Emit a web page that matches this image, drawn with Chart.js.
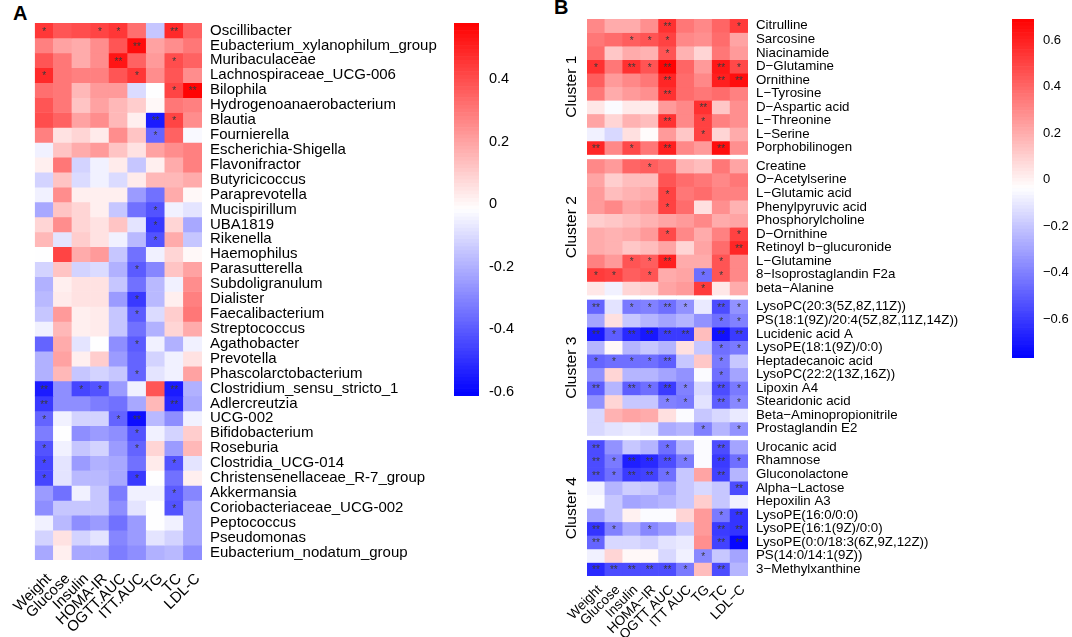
<!DOCTYPE html>
<html>
<head>
<meta charset="utf-8">
<script src="https://cdn.jsdelivr.net/npm/chart.js@4.4.0/dist/chart.umd.min.js"></script>
<style>
body{margin:0;background:#fff;width:1072px;height:637px;overflow:hidden;position:relative;font-family:"Liberation Sans",Arial,sans-serif}
canvas{position:absolute;top:0}
.tag{position:absolute;font-weight:bold;font-size:20px;color:#000}
</style>
</head>
<body>
<div class="tag" style="left:13px;top:2px">A</div>
<div class="tag" style="left:554px;top:-4px">B</div>
<canvas id="heatA" width="450" height="637" style="left:0"></canvas>
<canvas id="barA" width="110" height="420" style="left:440px"></canvas>
<canvas id="heatB" width="460" height="637" style="left:540px"></canvas>
<canvas id="barB" width="82" height="380" style="left:990px"></canvas>
<script>
// panel A: genera vs. phenotypes
let colsA = ["Weight","Glucose","Insulin","HOMA-IR","OGTT.AUC","ITT.AUC","TG","TC","LDL-C"]
let rowsA = ["Oscillibacter","Eubacterium_xylanophilum_group","Muribaculaceae","Lachnospiraceae_UCG-006","Bilophila",
"Hydrogenoanaerobacterium","Blautia","Fournierella","Escherichia-Shigella","Flavonifractor","Butyricicoccus",
"Paraprevotella","Mucispirillum","UBA1819","Rikenella","Haemophilus","Parasutterella","Subdoligranulum","Dialister",
"Faecalibacterium","Streptococcus","Agathobacter","Prevotella","Phascolarctobacterium","Clostridium_sensu_stricto_1",
"Adlercreutzia","UCG-002","Bifidobacterium","Roseburia","Clostridia_UCG-014","Christensenellaceae_R-7_group",
"Akkermansia","Coriobacteriaceae_UCG-002","Peptococcus","Pseudomonas","Eubacterium_nodatum_group"]
let valsA = [
[0.45,0.38,0.4,0.42,0.45,0.32,-0.15,0.48,0.35],
[0.28,0.2,0.18,0.25,0.38,0.55,0.2,0.25,0.3],
[0.38,0.3,0.18,0.25,0.53,0.35,0.22,0.4,0.35],
[0.48,0.3,0.28,0.28,0.38,0.45,0.25,0.38,0.25],
[0.32,0.3,0.15,0.22,0.22,-0.1,-0.02,0.42,0.57],
[0.38,0.3,0.12,0.2,0.15,0.1,0.0,0.3,0.28],
[0.4,0.35,0.2,0.25,0.15,0.02,-0.55,0.42,0.25],
[0.28,0.05,0.08,0.03,0.25,0.12,-0.38,0.35,-0.03],
[-0.05,0.12,0.18,0.22,0.12,0.05,0.2,0.25,0.28],
[0.02,0.3,-0.12,-0.05,0.03,-0.15,0.02,0.18,0.28],
[-0.12,0.12,-0.1,-0.05,-0.1,0.03,0.15,0.15,0.18],
[-0.05,0.25,0.02,0.02,0.02,-0.25,-0.35,0.18,0.0],
[-0.22,0.12,0.08,0.02,-0.15,-0.35,-0.42,-0.05,-0.08],
[0.08,0.25,0.08,0.05,0.12,-0.08,-0.48,0.08,-0.22],
[0.15,-0.08,0.1,0.05,-0.05,-0.18,-0.42,0.18,-0.15],
[-0.02,0.42,0.18,0.22,-0.15,-0.35,-0.05,0.08,0.0],
[-0.12,0.12,-0.12,-0.1,-0.2,-0.4,-0.3,0.12,0.2],
[-0.2,0.02,0.05,0.05,-0.15,-0.35,-0.18,-0.05,0.25],
[-0.18,0.03,0.05,0.05,-0.25,-0.48,-0.18,0.02,0.28],
[-0.15,0.22,0.02,0.03,-0.15,-0.4,-0.1,0.1,0.3],
[-0.05,0.15,0.02,0.03,-0.15,-0.35,-0.2,0.08,0.18],
[-0.38,0.18,-0.08,-0.02,-0.28,-0.4,-0.05,-0.2,-0.05],
[-0.2,0.2,0.02,0.1,-0.25,-0.38,-0.12,-0.05,0.05],
[-0.2,0.15,-0.15,-0.12,-0.15,-0.38,-0.08,-0.05,0.2],
[-0.55,-0.28,-0.45,-0.42,-0.25,-0.05,0.38,-0.55,-0.2],
[-0.48,-0.28,-0.28,-0.32,-0.35,-0.22,0.15,-0.52,-0.22],
[-0.38,-0.05,-0.12,-0.12,-0.38,-0.58,-0.18,-0.28,-0.05],
[-0.32,-0.02,-0.28,-0.25,-0.28,-0.42,-0.05,-0.12,0.1],
[-0.42,-0.05,-0.15,-0.12,-0.25,-0.38,0.08,-0.25,0.15],
[-0.45,-0.08,-0.25,-0.2,-0.22,-0.35,0.03,-0.42,-0.08],
[-0.45,-0.08,-0.18,-0.18,-0.22,-0.48,-0.02,-0.35,0.02],
[-0.25,-0.35,-0.05,-0.15,-0.32,-0.05,-0.05,-0.4,-0.3],
[-0.28,-0.15,-0.15,-0.15,-0.28,-0.08,-0.02,-0.42,-0.22],
[-0.05,-0.18,-0.28,-0.25,-0.35,-0.25,-0.02,-0.05,-0.22],
[-0.12,0.05,-0.12,-0.08,-0.3,-0.25,-0.08,-0.12,-0.22],
[-0.22,0.02,-0.22,-0.22,-0.32,-0.28,-0.2,-0.18,-0.28]]
// 1 = *, 2 = **
let starsA = [
[1,0,0,1,1,0,0,2,0],[0,0,0,0,0,2,0,0,0],[0,0,0,0,2,0,0,1,0],[1,0,0,0,0,1,0,0,0],[0,0,0,0,0,0,0,1,2],
[0,0,0,0,0,0,0,0,0],[0,0,0,0,0,0,2,1,0],[0,0,0,0,0,0,1,0,0],[0,0,0,0,0,0,0,0,0],[0,0,0,0,0,0,0,0,0],
[0,0,0,0,0,0,0,0,0],[0,0,0,0,0,0,0,0,0],[0,0,0,0,0,0,1,0,0],[0,0,0,0,0,0,1,0,0],[0,0,0,0,0,0,1,0,0],
[0,0,0,0,0,0,0,0,0],[0,0,0,0,0,1,0,0,0],[0,0,0,0,0,0,0,0,0],[0,0,0,0,0,1,0,0,0],[0,0,0,0,0,1,0,0,0],
[0,0,0,0,0,0,0,0,0],[0,0,0,0,0,1,0,0,0],[0,0,0,0,0,0,0,0,0],[0,0,0,0,0,1,0,0,0],[2,0,1,1,0,0,0,2,0],
[2,0,0,0,0,0,0,2,0],[1,0,0,0,1,2,0,0,0],[0,0,0,0,0,1,0,0,0],[1,0,0,0,0,1,0,0,0],[1,0,0,0,0,0,0,1,0],
[1,0,0,0,0,1,0,0,0],[0,0,0,0,0,0,0,1,0],[0,0,0,0,0,0,0,1,0],[0,0,0,0,0,0,0,0,0],[0,0,0,0,0,0,0,0,0],
[0,0,0,0,0,0,0,0,0]]
let rangeA = [-0.613, 0.579]
let ticksA = [0.4,0.2,0,-0.2,-0.4,-0.6]
let tickLabelsA = ["0.4","0.2","0","-0.2","-0.4","-0.6"]

// panel B: metabolites vs. phenotypes, four clusters
let colsB = ["Weight","Glucose","Insulin","HOMA−IR","OGTT AUC","ITT AUC","TG","TC","LDL−C"]
let rowsB1 = ["Citrulline","Sarcosine","Niacinamide","D−Glutamine","Ornithine","L−Tyrosine","D−Aspartic acid","L−Threonine","L−Serine","Porphobilinogen"]
let valsB1 = [
[0.3,0.2,0.2,0.28,0.55,0.35,0.3,0.4,0.52],
[0.35,0.38,0.42,0.45,0.5,0.3,0.28,0.38,0.22],
[0.38,0.12,0.2,0.18,0.45,0.18,0.08,0.35,0.25],
[0.55,0.35,0.55,0.45,0.68,0.4,0.25,0.62,0.48],
[0.42,0.25,0.3,0.35,0.58,0.38,0.3,0.6,0.65],
[0.35,0.2,0.25,0.28,0.55,0.38,0.35,0.38,0.32],
[0.03,-0.05,0.02,0.02,0.25,0.3,0.55,0.12,0.28],
[0.22,0.08,0.18,0.15,0.55,0.3,0.5,0.32,0.28],
[-0.08,-0.15,0.05,-0.03,0.25,0.12,0.5,0.08,0.2],
[0.58,0.3,0.48,0.35,0.6,0.3,0.25,0.65,0.28]]
let starsB1 = [
[0,0,0,0,2,0,0,0,1],[0,0,1,1,1,0,0,0,0],[0,0,0,0,1,0,0,0,0],[1,0,2,1,2,0,0,2,1],[0,0,0,0,2,0,0,2,2],
[0,0,0,0,2,0,0,0,0],[0,0,0,0,0,0,2,0,0],[0,0,0,0,2,0,1,0,0],[0,0,0,0,0,0,1,0,0],[2,0,1,0,2,0,0,2,0]]
let rowsB2 = ["Creatine","O−Acetylserine","L−Glutamic acid","Phenylpyruvic acid","Phosphorylcholine","D−Ornithine","Retinoyl b−glucuronide","L−Glutamine","8−Isoprostaglandin F2a","beta−Alanine"]
let valsB2 = [
[0.3,0.25,0.4,0.42,0.38,0.18,0.15,0.35,0.22],
[0.22,0.1,0.15,0.15,0.45,0.38,0.35,0.3,0.35],
[0.25,0.15,0.18,0.2,0.5,0.35,0.38,0.32,0.32],
[0.25,0.3,0.22,0.25,0.5,0.38,0.05,0.28,0.18],
[0.1,0.12,0.15,0.18,0.22,0.25,0.3,0.2,0.22],
[0.2,0.18,0.2,0.25,0.48,0.3,0.2,0.32,0.5],
[0.2,0.18,0.12,0.15,0.22,0.08,0.22,0.38,0.58],
[0.32,0.25,0.45,0.42,0.6,0.2,0.2,0.45,0.3],
[0.52,0.5,0.42,0.45,0.2,0.22,-0.45,0.45,0.3],
[0.03,-0.08,0.08,0.1,0.22,0.25,0.52,0.03,0.2]]
let starsB2 = [
[0,0,0,1,0,0,0,0,0],[0,0,0,0,0,0,0,0,0],[0,0,0,0,1,0,0,0,0],[0,0,0,0,1,0,0,0,0],[0,0,0,0,0,0,0,0,0],
[0,0,0,0,1,0,0,0,1],[0,0,0,0,0,0,0,0,2],[0,0,1,1,2,0,0,1,0],[1,1,0,1,0,0,1,1,0],[0,0,0,0,0,0,1,0,0]]
let rowsB3 = ["LysoPC(20:3(5Z,8Z,11Z))","PS(18:1(9Z)/20:4(5Z,8Z,11Z,14Z))","Lucidenic acid A","LysoPE(18:1(9Z)/0:0)","Heptadecanoic acid","LysoPC(22:2(13Z,16Z))","Lipoxin A4","Stearidonic acid","Beta−Aminopropionitrile","Prostaglandin E2"]
let valsB3 = [
[-0.48,-0.12,-0.42,-0.4,-0.45,-0.35,-0.1,-0.55,-0.35],
[-0.3,0.05,-0.2,-0.25,-0.3,-0.25,-0.35,-0.45,-0.4],
[-0.7,-0.5,-0.65,-0.7,-0.6,-0.6,0.15,-0.72,-0.6],
[-0.25,-0.02,-0.25,-0.2,-0.25,0.05,-0.2,-0.45,-0.42],
[-0.48,-0.45,-0.45,-0.45,-0.5,-0.2,0.12,-0.42,-0.2],
[-0.35,0.08,-0.25,-0.25,-0.3,-0.35,-0.05,-0.45,-0.3],
[-0.5,-0.25,-0.5,-0.45,-0.6,-0.4,-0.15,-0.55,-0.42],
[-0.35,0.08,-0.2,-0.2,-0.4,-0.42,-0.12,-0.5,-0.38],
[-0.15,0.18,0.22,0.2,0.05,-0.05,-0.2,-0.15,-0.1],
[-0.15,-0.12,-0.1,-0.12,-0.28,-0.25,-0.4,-0.25,-0.35]]
let starsB3 = [
[2,0,1,1,2,1,0,2,1],[0,0,0,0,0,0,0,1,1],[2,1,2,2,2,2,0,2,2],[0,0,0,0,0,0,0,1,1],[1,1,1,1,2,0,0,1,0],
[0,0,0,0,0,0,0,1,0],[2,0,2,1,2,1,0,2,1],[0,0,0,0,1,1,0,2,1],[0,0,0,0,0,0,0,0,0],[0,0,0,0,0,0,1,0,1]]
let rowsB4 = ["Urocanic acid","Rhamnose","Gluconolactone","Alpha−Lactose","Hepoxilin A3","LysoPE(16:0/0:0)","LysoPE(16:1(9Z)/0:0)","LysoPE(0:0/18:3(6Z,9Z,12Z))","PS(14:0/14:1(9Z))","3−Methylxanthine"]
let valsB4 = [
[-0.55,-0.35,-0.2,-0.25,-0.45,-0.25,-0.05,-0.55,-0.3],
[-0.55,-0.42,-0.68,-0.65,-0.55,-0.42,-0.05,-0.6,-0.45],
[-0.55,-0.45,-0.6,-0.58,-0.45,-0.2,0.22,-0.58,-0.25],
[-0.08,-0.25,-0.18,-0.2,-0.3,-0.2,-0.15,-0.2,-0.55],
[-0.05,-0.2,-0.3,-0.28,-0.25,-0.2,0.1,-0.2,-0.08],
[-0.3,-0.2,0.0,-0.05,-0.05,0.08,0.25,-0.42,-0.62],
[-0.62,-0.4,-0.28,-0.38,-0.32,-0.2,0.25,-0.6,-0.62],
[-0.48,-0.15,-0.15,-0.18,-0.12,-0.1,0.28,-0.58,-0.75],
[-0.08,0.08,-0.02,-0.02,-0.15,-0.08,-0.38,-0.2,-0.3],
[-0.65,-0.55,-0.55,-0.55,-0.55,-0.42,0.15,-0.55,-0.25]]
let starsB4 = [
[2,0,0,0,1,0,0,2,0],[2,1,2,2,2,1,0,2,1],[2,1,2,2,1,0,0,2,0],[0,0,0,0,0,0,0,0,2],[0,0,0,0,0,0,0,0,0],
[0,0,0,0,0,0,0,1,2],[2,1,0,1,0,0,0,2,2],[2,0,0,0,0,0,0,2,2],[0,0,0,0,0,0,1,0,0],[2,2,2,2,2,1,0,2,0]]
let clusterNames = ["Cluster 1","Cluster 2","Cluster 3","Cluster 4"]
let rangeB = [-0.768, 0.69]
let ticksB = [0.6,0.4,0.2,0,-0.2,-0.4,-0.6]
let tickLabelsB = ["0.6","0.4","0.2","0","−0.2","−0.4","−0.6"]

Chart.defaults.font.family = '"Liberation Sans", Arial, sans-serif'
Chart.defaults.color = "#000"

function heatColor(v, lo, hi){
  let mid = (lo + hi) / 2
  let t, c
  if(v >= mid){
    t = Math.min(1, (v - mid) / (hi - mid))
    c = Math.round(255 * (1 - t))
    return "rgb(255," + c + "," + c + ")"
  }
  t = Math.min(1, (mid - v) / (mid - lo))
  c = Math.round(255 * (1 - t))
  return "rgb(" + c + "," + c + ",255)"
}

const starPlugin = {
  id: "stars",
  afterDatasetsDraw(chart){
    let ctx = chart.ctx
    ctx.save()
    ctx.fillStyle = "#3a3a3a"
    ctx.font = '10px "Liberation Sans"'
    ctx.textAlign = "center"
    ctx.textBaseline = "middle"
    chart.data.datasets.forEach((ds, i) => {
      if(!ds.stars) return
      chart.getDatasetMeta(i).data.forEach((bar, j) => {
        let n = ds.stars[j]
        if(n) ctx.fillText("*".repeat(n), bar.x, (bar.y + bar.base) / 2 + 1.5)
      })
    })
    ctx.restore()
  }
}

const clusterPlugin = {
  id: "clusters",
  afterDraw(chart){
    let o = chart.options.plugins.clusters
    if(!o || !o.names) return
    let ctx = chart.ctx
    let y = chart.scales.y
    ctx.save()
    ctx.fillStyle = "#000"
    ctx.font = '15.5px "Liberation Sans"'
    ctx.textAlign = "center"
    ctx.textBaseline = "middle"
    o.names.forEach((name, c) => {
      let mid = o.pos[c * 10] + 5
      ctx.save()
      ctx.translate(chart.chartArea.left - 15, y.getPixelForValue(mid))
      ctx.rotate(-Math.PI / 2)
      ctx.fillText(name, 0, 0)
      ctx.restore()
    })
    ctx.restore()
  }
}

function heatmap(id, cols, rows, vals, stars, pos, range, cfg){
  let top = Math.max(...pos) + 1
  let datasets = rows.map((name, i) => ({
    label: name,
    data: cols.map(() => [pos[i], pos[i] + 1]),
    backgroundColor: vals[i].map(v => heatColor(v, range[0], range[1])),
    stars: stars[i],
    grouped: false,
    barPercentage: 1,
    categoryPercentage: 1,
    borderWidth: 0
  }))
  return new Chart(document.getElementById(id), {
    type: "bar",
    data: { labels: cols, datasets: datasets },
    plugins: [starPlugin, clusterPlugin],
    options: {
      responsive: false,
      animation: false,
      layout: { padding: { left: cfg.left, top: cfg.top, right: 0, bottom: 0 } },
      plugins: { legend: { display: false }, tooltip: { enabled: false }, clusters: cfg.clusters || {} },
      scales: {
        x: {
          type: "category",
          grid: { display: false, drawTicks: false },
          border: { display: false },
          ticks: { autoSkip: false, maxRotation: 45, minRotation: 45, padding: cfg.xpad, labelOffset: cfg.xoff, font: { size: cfg.xfont } },
          afterFit(s){ s.height = cfg.xh }
        },
        y: {
          type: "linear",
          position: "right",
          reverse: true,
          min: 0,
          max: top,
          grid: { display: false, drawTicks: false },
          border: { display: false },
          afterBuildTicks(s){ s.ticks = pos.map(p => ({ value: p + 0.5 })) },
          ticks: { autoSkip: false, padding: cfg.ypad, font: { size: cfg.yfont }, callback: (v, i) => rows[i] },
          afterFit(s){ s.width = cfg.yw }
        }
      }
    }
  })
}

function colorbar(id, range, ticks, labels, cfg){
  let n = 100
  let step = (range[1] - range[0]) / n
  let datasets = []
  for(let k = 0; k < n; k++){
    let a = range[0] + k * step
    datasets.push({
      data: [[a, a + step]],
      backgroundColor: heatColor(a + step / 2, range[0], range[1]),
      grouped: false, barPercentage: 1, categoryPercentage: 1, borderWidth: 0
    })
  }
  return new Chart(document.getElementById(id), {
    type: "bar",
    data: { labels: [""], datasets: datasets },
    options: {
      responsive: false,
      animation: false,
      layout: { padding: { left: cfg.left, top: cfg.top, bottom: cfg.bottom, right: 0 } },
      plugins: { legend: { display: false }, tooltip: { enabled: false } },
      scales: {
        x: { display: false },
        y: {
          position: "right",
          min: range[0],
          max: range[1],
          grid: { display: false, drawTicks: false },
          border: { display: false },
          afterBuildTicks(s){ s.ticks = ticks.map(v => ({ value: v })) },
          ticks: { padding: cfg.pad, font: { size: cfg.font }, callback: (v, i) => labels[i] },
          afterFit(s){ s.width = cfg.w }
        }
      }
    }
  })
}

let posA = rowsA.map((_, i) => i)
heatmap("heatA", colsA, rowsA, valsA, starsA, posA, rangeA,
  { left: 23, top: 23, xh: 77, yw: 248, xpad: 10, xoff: 5, ypad: 8, xfont: 15, yfont: 15 })
colorbar("barA", rangeA, ticksA, tickLabelsA, { left: 14, top: 23, bottom: 24, w: 71, pad: 10, font: 14.5 })

let rowsB = rowsB1.concat(rowsB2, rowsB3, rowsB4)
let valsB = valsB1.concat(valsB2, valsB3, valsB4)
let starsB = starsB1.concat(starsB2, starsB3, starsB4)
let gapB = 0.37
let posB = rowsB.map((_, i) => i + Math.floor(i / 10) * gapB)
heatmap("heatB", colsB, rowsB, valsB, starsB, posB, rangeB,
  { left: 47, top: 19, xh: 61, yw: 252, xpad: 6, xoff: 4, ypad: 8, xfont: 13.5, yfont: 13.3,
    clusters: { names: clusterNames, pos: posB } })
colorbar("barB", rangeB, ticksB, tickLabelsB, { left: 22, top: 19, bottom: 22, w: 38, pad: 9, font: 13 })
</script>
</body>
</html>
